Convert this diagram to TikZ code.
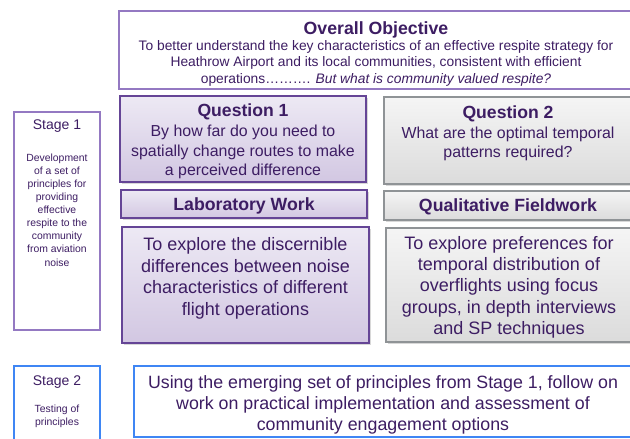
\documentclass[tikz,border=0pt]{standalone}
\usepackage{fontspec}
\setmainfont{Liberation Sans}
\usetikzlibrary{positioning,shadows}

\definecolor{inkpurple}{HTML}{3D1D63}
\definecolor{framepurple}{HTML}{654596}
\definecolor{lightpurple}{HTML}{9479C2}
\definecolor{framegray}{HTML}{8F9396}
\definecolor{frameblue}{HTML}{3F86F4}
\definecolor{lavtop}{HTML}{EDE9F4}
\definecolor{lavbottom}{HTML}{D2C7E2}

\begin{document}
\begin{tikzpicture}[x=1pt, y=-1pt,
	every node/.style={text=inkpurple, align=center, inner sep=2pt},
	purplebox/.style={draw=framepurple, line width=1.2pt, top color=lavtop, bottom color=lavbottom,
		drop shadow={shadow xshift=1.6pt, shadow yshift=-1.6pt, opacity=0.3}},
	graybox/.style={draw=framegray, line width=1.2pt, top color=gray!8, bottom color=gray!28,
		drop shadow={shadow xshift=1.6pt, shadow yshift=-1.6pt, opacity=0.3}},
	stagebox/.style={draw, line width=1.2pt, fill=white, minimum width=86pt},
	bigtext/.style={font=\fontsize{18}{21.7}\selectfont},
	headtext/.style={font=\fontsize{17.7}{19}\selectfont\bfseries}]
	\clip (0,0) rectangle (630,439);
	\fill[white] (0,0) rectangle (630,439);

	% Overall objective
	\node[draw=lightpurple, line width=1.2pt, fill=white, minimum width=514pt, minimum height=78pt] (objective) at (376,50) {};
	\node[headtext] (objtitle) at (376,29.5) {Overall Objective};
	\node[font=\fontsize{13.8}{16.5}\selectfont, below=-2pt of objtitle] (objtext) {To better understand the key characteristics of an effective respite strategy for\\
		Heathrow Airport and its local communities, consistent with efficient\\
		operations………. \textit{But what is community valued respite?}};

	% Stage 1
	\node[stagebox, draw=lightpurple, minimum height=218pt] (stage1) at (57,221) {};
	\node[font=\fontsize{14}{15}\selectfont, below=6pt of stage1.north] (stage1title) {Stage 1};
	\node[font=\fontsize{10.4}{13.1}\selectfont, below=17pt of stage1title] (stage1text) {Development\\ of a set of\\ principles for\\ providing\\ effective\\ respite to the\\ community\\ from aviation\\ noise};

	% Question 1 column
	\node[purplebox, minimum width=246pt, minimum height=86pt] (quest1) at (243,139) {};
	\node[font=\fontsize{15.9}{19.7}\selectfont] (quest1text) at ([yshift=-2.7pt]quest1.center)
		{\textbf{\fontsize{17.6}{19.7}\selectfont Question 1}\\ By how far do you need to\\ spatially change routes to make\\ a perceived difference};
	\node[purplebox, minimum width=246pt, minimum height=28pt] (labwork) at (244,204) {};
	\node[headtext] (labtext) at ([yshift=-1.8pt]labwork.center) {Laboratory Work};
	\node[purplebox, minimum width=247pt, minimum height=116pt] (explore1) at (245.5,285) {};
	\node[bigtext] (explore1text) at ([yshift=6.6pt]explore1.center)
		{To explore the discernible\\ differences between noise\\ characteristics of different\\ flight operations};

	% Question 2 column
	\node[graybox, minimum width=248pt, minimum height=87pt] (quest2) at (508,140.5) {};
	\node[font=\fontsize{15.9}{19.5}\selectfont] (quest2text) at ([yshift=7.2pt]quest2.center)
		{\textbf{\fontsize{17.6}{19.5}\selectfont Question 2}\\ What are the optimal temporal\\ patterns required?};
	\node[graybox, minimum width=248pt, minimum height=29pt] (fieldwork) at (508,205.5) {};
	\node[headtext] (fieldtext) at ([yshift=-1pt]fieldwork.center) {Qualitative Fieldwork};
	\node[graybox, minimum width=246pt, minimum height=114pt] (explore2) at (509,285) {};
	\node[bigtext, font=\fontsize{18}{21.3}\selectfont] (explore2text) at ([yshift=-2.3pt]explore2.center)
		{To explore preferences for\\ temporal distribution of\\ overflights using focus\\ groups, in depth interviews\\ and SP techniques};

	% Stage 2
	\node[stagebox, draw=frameblue, minimum height=80pt] (stage2) at (57,406) {};
	\node[font=\fontsize{14}{15}\selectfont, below=8pt of stage2.north] (stage2title) {Stage 2};
	\node[font=\fontsize{10.4}{13.1}\selectfont, below=12pt of stage2title] (stage2text) {Testing of\\ principles};

	% Follow on work
	\node[draw=frameblue, line width=1.2pt, fill=white, minimum width=498pt, minimum height=71pt] (followon) at (383,401.5) {};
	\node[font=\fontsize{17.8}{21}\selectfont] (followtext) at ([yshift=-3.3pt]followon.center)
		{Using the emerging set of principles from Stage 1, follow on\\ work on practical implementation and assessment of\\ community engagement options};
\end{tikzpicture}
\end{document}
